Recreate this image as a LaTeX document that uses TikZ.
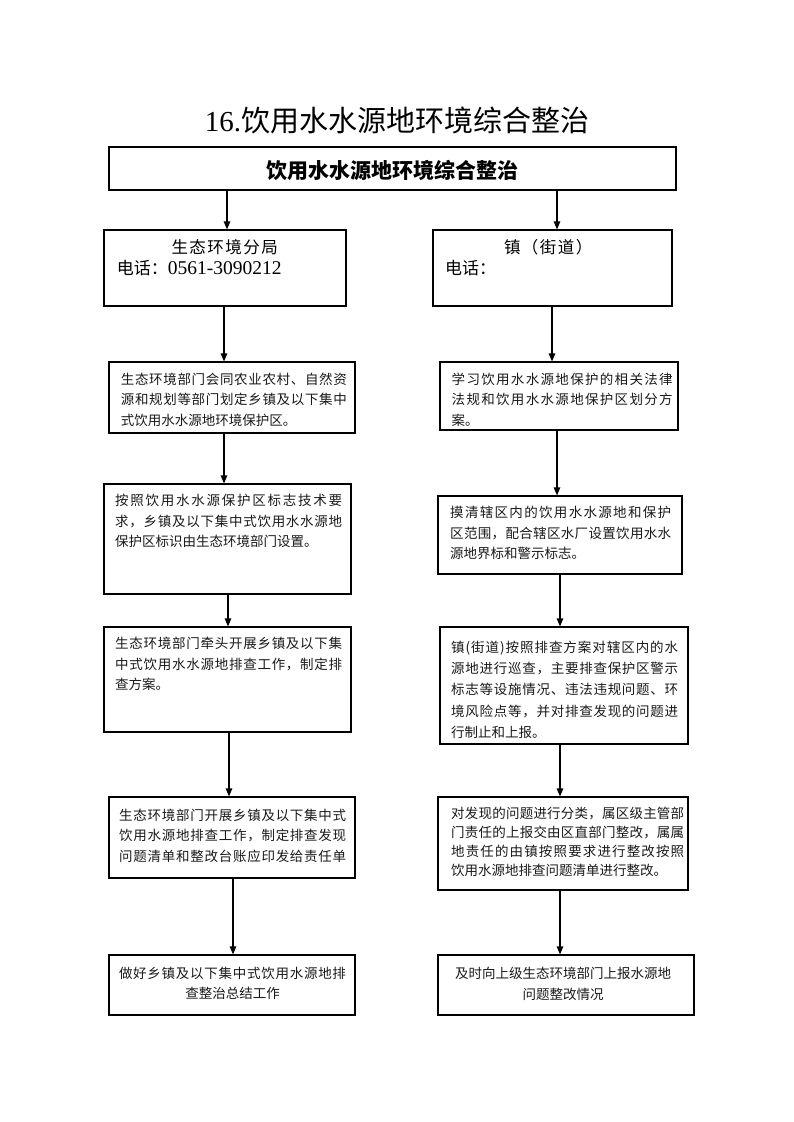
\documentclass[tikz,border=0pt]{standalone}
\usepackage{fontspec}
\setmainfont{Liberation Serif}
\newfontfamily\cjk{Noto Sans CJK SC}
\usetikzlibrary{arrows.meta,fit}
\makeatletter
\newcommand\jl[2]{\hbox to #1{\@tfor\jc:=#2\do{\jc\hfil}\unskip}}
\newcommand\spc[2]{\hbox{\@tfor\jc:=#2\do{\jc\kern#1}\unskip}}
\makeatother
\tikzset{
  box/.style={draw, line width=1.2pt, inner sep=0pt},
  arr/.style={line width=1.2pt, -{Triangle[length=8pt,width=6.5pt]}},
  txt/.style={inner sep=0pt, align=left, anchor=north west, text=black!90, font=\cjk\fontsize{13.5}{20.5}\selectfont},
  ctxt/.style={inner sep=0pt, align=center, anchor=north, text=black!90, font=\cjk\fontsize{13.5}{20.5}\selectfont},
}
\begin{document}
\begin{tikzpicture}[x=1pt,y=-1pt]
\useasboundingbox (0,0) rectangle (793,1122);
% title
\node[inner sep=0pt] (title) at (397,120) {\fontsize{29}{32}\selectfont 16.\cjk 饮用水水源地环境综合整治};
% boxes
\node[box, fit={(109,147)(676,190)}] (top) {};
\node[inner sep=0pt, font=\cjk\fontsize{21}{24}\selectfont\bfseries] (toptxt) at (392.5,170) {饮用水水源地环境综合整治};
\node[box, fit={(104,230)(346,306)}] (L1) {};
\node[box, fit={(433,230)(672,306)}] (R1) {};
\node[box, fit={(109,362)(355,433)}] (L2) {};
\node[box, fit={(440,362)(678,430)}] (R2) {};
\node[box, fit={(104,484)(351,594)}] (L3) {};
\node[box, fit={(438,496)(682,574)}] (R3) {};
\node[box, fit={(104,627)(351,732)}] (L4) {};
\node[box, fit={(440,627)(688,744)}] (R4) {};
\node[box, fit={(109,797)(355,878)}] (L5) {};
\node[box, fit={(438,797)(688,890)}] (R5) {};
\node[box, fit={(109,955)(355,1015)}] (L6) {};
\node[box, fit={(438,955)(694,1015)}] (R6) {};
% L1 / R1 texts
\node[inner sep=0pt, font=\cjk\fontsize{16.5}{20}\selectfont] (tL1a) at (225.5,247.7) {\spc{1.5pt}{生态环境分局}};
\node[inner sep=0pt, anchor=west] (tL1b) at (116.7,268.3) {{\cjk\fontsize{17}{20}\selectfont 电话：}\fontsize{19.5}{22}\selectfont 0561-3090212};
\node[inner sep=0pt, font=\cjk\fontsize{16.5}{20}\selectfont] (tR1a) at (549,247.7) {\spc{1.5pt}{镇（街道）}};
\node[inner sep=0pt, anchor=west, font=\cjk\fontsize{17}{20}\selectfont] (tR1b) at (445,268.3) {电话：};
% box texts
\node[txt] (tL2) at (120.7,372.4) {\jl{226pt}{生态环境部门会同农业农村、自然资}\\\jl{226pt}{源和规划等部门划定乡镇及以下集中}\\式饮用水水源地环境保护区。};
\node[txt] (tR2) at (451.5,372.4) {\jl{221pt}{学习饮用水水源地保护的相关法律}\\\jl{221pt}{法规和饮用水水源地保护区划分方}\\案。};
\node[txt] (tL3) at (115,493.9) {\jl{227pt}{按照饮用水水源保护区标志技术要}\\\jl{227pt}{求，乡镇及以下集中式饮用水水源地}\\保护区标识由生态环境部门设置。};
\node[txt] (tR3) at (450,505.9) {\jl{221pt}{摸清辖区内的饮用水水源地和保护}\\\jl{221pt}{区范围，配合辖区水厂设置饮用水水}\\源地界标和警示标志。};
\node[txt] (tL4) at (115,636.9) {\jl{227pt}{生态环境部门牵头开展乡镇及以下集}\\\jl{227pt}{中式饮用水水源地排查工作，制定排}\\查方案。};
\node[txt, font=\cjk\fontsize{13.5}{21.2}\selectfont] (tR4) at (451,640.9) {\jl{227pt}{镇(街道)按照排查方案对辖区内的水}\\\jl{227pt}{源地进行巡查，主要排查保护区警示}\\\jl{227pt}{标志等设施情况、违法违规问题、环}\\\jl{227pt}{境风险点等，并对排查发现的问题进}\\行制止和上报。};
\node[txt] (tL5) at (119,808.4) {\jl{227pt}{生态环境部门开展乡镇及以下集中式}\\\jl{227pt}{饮用水源地排查工作，制定排查发现}\\\jl{227pt}{问题清单和整改台账应印发给责任单}};
\node[txt, font=\cjk\fontsize{13.5}{19}\selectfont] (tR5) at (451,806.4) {\jl{233pt}{对发现的问题进行分类，属区级主管部}\\\jl{233pt}{门责任的上报交由区直部门整改，属属}\\\jl{233pt}{地责任的由镇按照要求进行整改按照}\\饮用水源地排查问题清单进行整改。};
\node[ctxt] (tL6) at (232.5,966.9) {\jl{227pt}{做好乡镇及以下集中式饮用水源地排}\\查整治总结工作};
\node[ctxt] (tR6) at (563,966.9) {及时向上级生态环境部门上报水源地\\问题整改情况};
% arrows
\coordinate (a1) at (227,0); \coordinate (b1) at (557,0);
\coordinate (a2) at (224,0); \coordinate (b2) at (552,0);
\coordinate (a3) at (224,0); \coordinate (b3) at (557,0);
\coordinate (a4) at (228,0); \coordinate (b4) at (560,0);
\coordinate (a5) at (229,0); \coordinate (b5) at (560,0);
\coordinate (a6) at (233,0); \coordinate (b6) at (560,0);
\draw[arr] (top.south -| a1) -- (L1.north -| a1);
\draw[arr] (top.south -| b1) -- (R1.north -| b1);
\draw[arr] (L1.south -| a2) -- (L2.north -| a2);
\draw[arr] (R1.south -| b2) -- (R2.north -| b2);
\draw[arr] (L2.south -| a3) -- (L3.north -| a3);
\draw[arr] (R2.south -| b3) -- (R3.north -| b3);
\draw[arr] (L3.south -| a4) -- (L4.north -| a4);
\draw[arr] (R3.south -| b4) -- (R4.north -| b4);
\draw[arr] (L4.south -| a5) -- (L5.north -| a5);
\draw[arr] (R4.south -| b5) -- (R5.north -| b5);
\draw[arr] (L5.south -| a6) -- (L6.north -| a6);
\draw[arr] (R5.south -| b6) -- (R6.north -| b6);
\end{tikzpicture}
\end{document}
